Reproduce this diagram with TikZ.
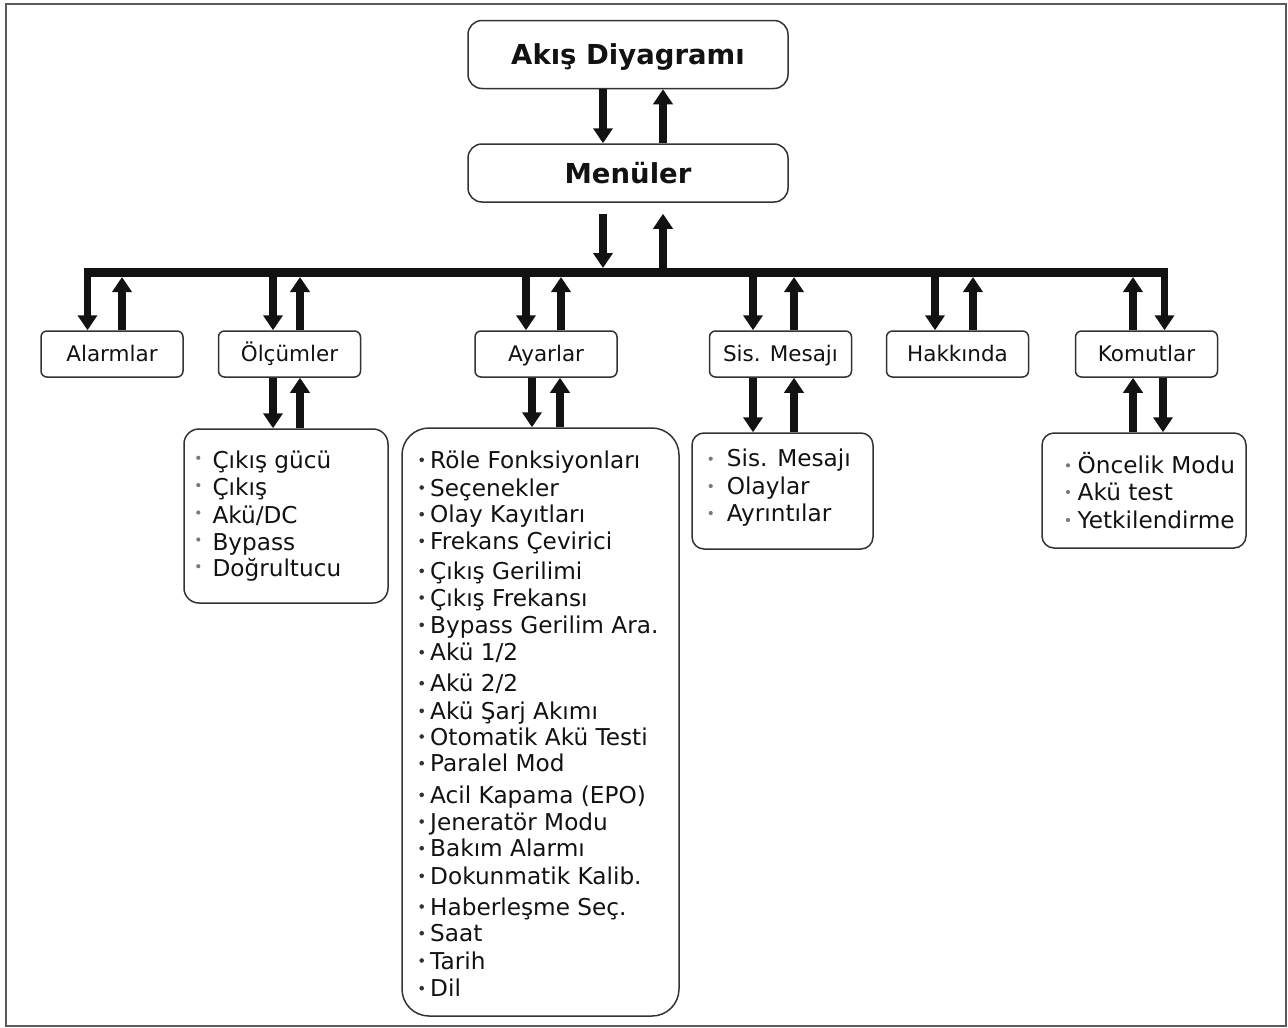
\documentclass[tikz,border=0pt]{standalone}
\usepackage{fontspec}
\setmainfont{DejaVu Sans}
\usetikzlibrary{arrows.meta,calc}
\definecolor{ink}{HTML}{121212}
\definecolor{boxline}{HTML}{333333}
\definecolor{framegray}{HTML}{5A5A5A}
\definecolor{dotgray}{HTML}{7A7A7A}
\begin{document}
\begin{tikzpicture}[x=1pt,y=-1pt,
  arr/.style={line width=7.5pt, -{Triangle[length=15pt,width=19pt]}, draw=ink},
  lvl/.style={draw=boxline, line width=1.5pt, rounded corners=6pt, minimum width=142pt, minimum height=46pt, inner sep=0pt, text=ink, font=\fontsize{21.5}{26}\selectfont, text height=15.7pt, text depth=0pt},
  topbox/.style={draw=boxline, line width=1.5pt, rounded corners=14pt, minimum width=320pt, inner sep=0pt, text=ink, font=\fontsize{27.5}{32}\selectfont\bfseries, text height=20pt, text depth=0pt},
  listbox/.style={draw=boxline, line width=1.5pt, inner sep=0pt},
  item/.style={anchor=base west, inner sep=0pt, text=ink, font=\fontsize{23.2}{27}\selectfont},
]
\path[use as bounding box] (0,0) rectangle (1288,1028);
\draw[framegray, line width=2.5pt] (6,4) rectangle (1286,1026);

% top boxes
\node[topbox, minimum height=68pt] (title) at (628,54.5) {Akış Diyagramı};
\node[topbox, minimum height=58pt] (menu) at (628,173) {Menüler};

% level 2
\node[lvl] (alarm) at (112,354) {Alarmlar};
\node[lvl] (olc) at (289.5,354) {Ölçümler};
\node[lvl] (ayar) at (546,354) {Ayarlar};
\node[lvl] (sis) at (780.5,354) {Sis. Mesajı};
\node[lvl] (hak) at (957.5,354) {Hakkında};
\node[lvl] (kom) at (1146.5,354) {Komutlar};

% level 3 lists
\node[listbox, rounded corners=15pt, minimum width=204pt, minimum height=174pt] (olist) at (286,516) {};
\node[listbox, rounded corners=27pt, minimum width=277pt, minimum height=588pt] (alist) at (540.5,722) {};
\node[listbox, rounded corners=12pt, minimum width=181pt, minimum height=116pt] (slist) at (782.5,491) {};
\node[listbox, rounded corners=12pt, minimum width=204pt, minimum height=115pt] (klist) at (1144,490.5) {};

% list items
\foreach \yy/\tt [count=\i] in {468.3/{Çıkış gücü}, 495.6/{Çıkış}, 523/{Akü/DC}, 550/{Bypass}, 576.7/{Doğrultucu}}{
  \fill[dotgray] (198.3,\yy-10.5) circle (2.1pt);
  \node[item] (o\i) at (212.3,\yy) {\tt};
}
\foreach \yy/\tt [count=\i] in {468.3/{Röle Fonksiyonları}, 496/{Seçenekler}, 522.7/{Olay Kayıtları}, 549.3/{Frekans Çevirici}, 579.3/{Çıkış Gerilimi}, 606/{Çıkış Frekansı}, 633.3/{Bypass Gerilim Ara.}, 660.7/{Akü 1/2}, 691.7/{Akü 2/2}, 719.3/{Akü Şarj Akımı}, 745/{Otomatik Akü Testi}, 771.7/{Paralel Mod}, 803.3/{Acil Kapama (EPO)}, 830/{Jeneratör Modu}, 856.7/{Bakım Alarmı}, 884.3/{Dokunmatik Kalib.}, 915/{Haberleşme Seç.}, 941.7/{Saat}, 969/{Tarih}, 996.7/{Dil}}{
  \fill[boxline] (421.7,\yy-8.5) circle (2.3pt);
  \node[item] (a\i) at (430,\yy) {\tt};
}
\foreach \yy/\tt [count=\i] in {466.7/{Sis. Mesajı}, 494/{Olaylar}, 521/{Ayrıntılar}}{
  \fill[dotgray] (710.7,\yy-8) circle (2.1pt);
  \node[item] (s\i) at (726.7,\yy) {\tt};
}
\foreach \yy/\tt [count=\i] in {473.3/{Öncelik Modu}, 500/{Akü test}, 528/{Yetkilendirme}}{
  \fill[dotgray] (1068,\yy-8) circle (2.1pt);
  \node[item] (k\i) at (1077.5,\yy) {\tt};
}

% x positions of connectors
\coordinate (xa) at (603,0);
\coordinate (xb) at (663,0);
\coordinate (al1) at (87.5,0);  \coordinate (al2) at (122,0);
\coordinate (ol1) at (273,0);   \coordinate (ol2) at (300,0);
\coordinate (ay1) at (526,0);   \coordinate (ay2) at (561,0);
\coordinate (ay3) at (532,0);   \coordinate (ay4) at (560,0);
\coordinate (si1) at (753,0);   \coordinate (si2) at (794,0);
\coordinate (ha1) at (935,0);   \coordinate (ha2) at (973,0);
\coordinate (ko1) at (1133,0);  \coordinate (ko2) at (1164.5,0);
\coordinate (ko3) at (1133,0);  \coordinate (ko4) at (1163,0);

% bus
\coordinate (busL) at (83.75,272.5);
\coordinate (busR) at (1168.25,272.5);
\draw[line width=9pt, ink] (busL) -- (busR);

% title <-> menu
\draw[arr] (xa |- title.south) -- (xa |- menu.north);
\draw[arr] (xb |- menu.north) -- (xb |- title.south);

% menu <-> bus
\draw[arr] ($(xa |- menu.south)+(0,11)$) -- ($(xa |- busL)+(0,-4.5)$);
\draw[arr] ($(xb |- busL)+(0,-4)$) -- ($(xb |- menu.south)+(0,11)$);

% bus <-> level 2
\draw[arr] ($(al1 |- busL)+(0,-4.5)$) -- (al1 |- alarm.north);
\draw[arr] (al2 |- alarm.north) -- ($(al2 |- busL)+(0,4.5)$);
\draw[arr] (ol1 |- busL) -- (ol1 |- olc.north);
\draw[arr] (ol2 |- olc.north) -- ($(ol2 |- busL)+(0,4.5)$);
\draw[arr] (ay1 |- busL) -- (ay1 |- ayar.north);
\draw[arr] (ay2 |- ayar.north) -- ($(ay2 |- busL)+(0,4.5)$);
\draw[arr] (si1 |- busL) -- (si1 |- sis.north);
\draw[arr] (si2 |- sis.north) -- ($(si2 |- busL)+(0,4.5)$);
\draw[arr] (ha1 |- busL) -- (ha1 |- hak.north);
\draw[arr] (ha2 |- hak.north) -- ($(ha2 |- busL)+(0,4.5)$);
\draw[arr] (ko1 |- kom.north) -- ($(ko1 |- busL)+(0,4.5)$);
\draw[arr] ($(ko2 |- busL)+(0,-4.5)$) -- (ko2 |- kom.north);

% level 2 <-> lists
\draw[arr] (ol1 |- olc.south) -- (ol1 |- olist.north);
\draw[arr] (ol2 |- olist.north) -- (ol2 |- olc.south);
\draw[arr] (ay3 |- ayar.south) -- (ay3 |- alist.north);
\draw[arr] (ay4 |- alist.north) -- (ay4 |- ayar.south);
\draw[arr] (si1 |- sis.south) -- (si1 |- slist.north);
\draw[arr] (si2 |- slist.north) -- (si2 |- sis.south);
\draw[arr] (ko3 |- klist.north) -- (ko3 |- kom.south);
\draw[arr] (ko4 |- kom.south) -- (ko4 |- klist.north);
\end{tikzpicture}
\end{document}
